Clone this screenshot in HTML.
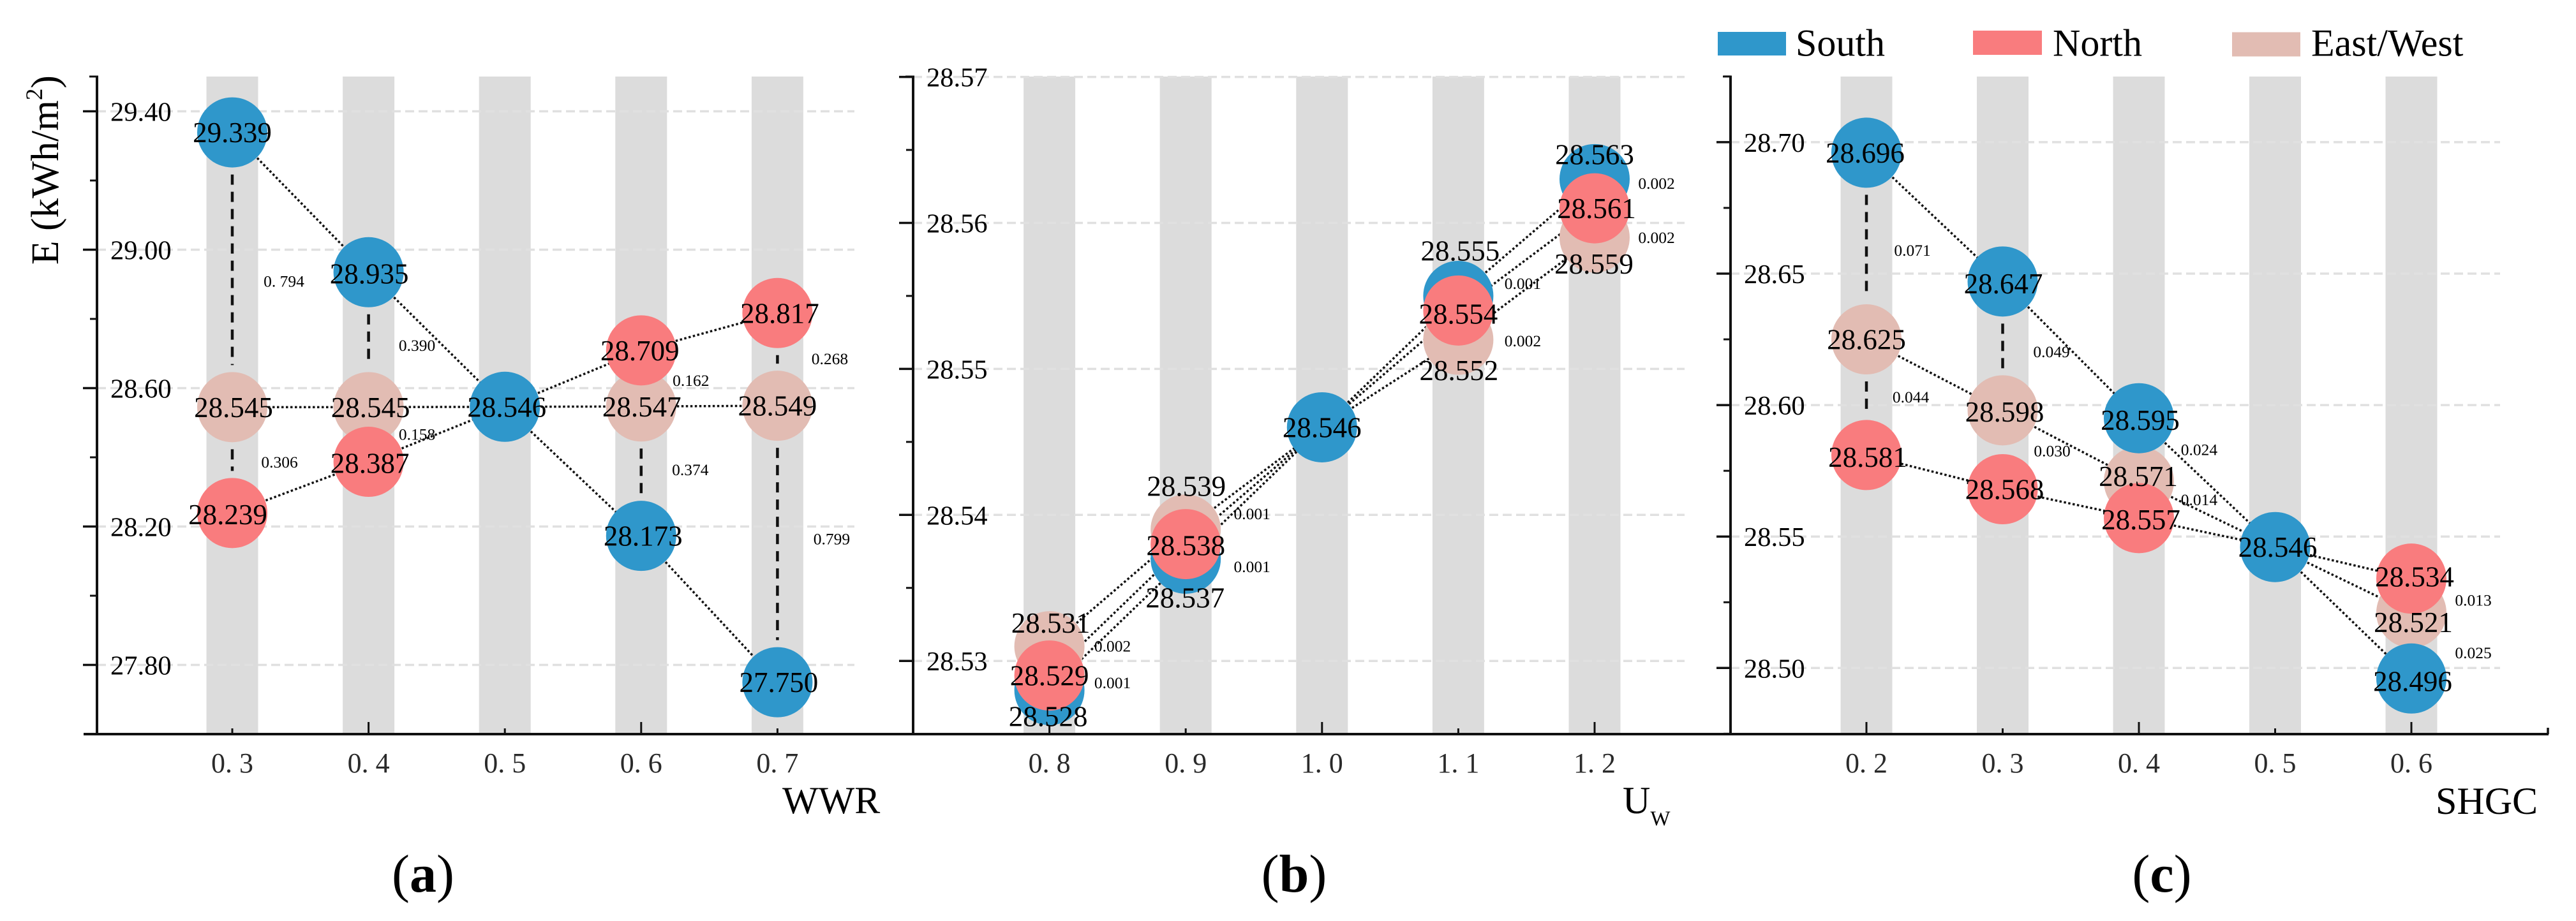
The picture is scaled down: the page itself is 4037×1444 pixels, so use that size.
<!DOCTYPE html>
<html lang="en">
<head>
<meta charset="utf-8">
<title>Energy consumption sensitivity to WWR, Uw and SHGC</title>
<style>
html,body{margin:0;padding:0;background:#fff;}
svg{display:block;}
text{font-family:"Liberation Serif",serif;fill:#000;}
</style>
</head>
<body>
<svg id="figure" xmlns="http://www.w3.org/2000/svg" width="4037" height="1444" viewBox="0 0 4037 1444">
  <rect x="0" y="0" width="4037" height="1444" fill="#fff"/>
  <g id="plots"></g>

  <line x1="131" y1="1151" x2="3994" y2="1151" stroke="#111" stroke-width="4"/>
  <line x1="3993" y1="1151" x2="3993" y2="1141" stroke="#111" stroke-width="3.5"/>

  <text transform="translate(91,415) rotate(-90)" font-size="61.5">E (kWh/m<tspan font-size="37" dy="-25">2</tspan><tspan dy="25">)</tspan></text>

  <text x="1226" y="1275" font-size="60">WWR</text>
  <text x="2543" y="1275" font-size="60">U<tspan font-size="33" dy="19">W</tspan></text>
  <text x="3817" y="1276" font-size="60">SHGC</text>

  <text x="663" y="1398" font-size="84" text-anchor="middle">(<tspan font-weight="bold">a</tspan>)</text>
  <text x="2028" y="1398" font-size="84" text-anchor="middle">(<tspan font-weight="bold">b</tspan>)</text>
  <text x="3388" y="1398" font-size="84" text-anchor="middle">(<tspan font-weight="bold">c</tspan>)</text>

  <g>
    <rect x="2692" y="50" width="107" height="37" fill="#2f97cb"/>
    <text x="2814" y="87.5" font-size="60">South</text>
    <rect x="3092" y="48" width="108" height="38" fill="#f97c7e"/>
    <text x="3217" y="87.5" font-size="60">North</text>
    <rect x="3498" y="50.5" width="107" height="38" fill="#e2bcb3"/>
    <text x="3622" y="87.5" font-size="60">East/West</text>
  </g>
</svg>

<script>
// ---------- Panel (a) data ----------
const wwrCategories = ['0. 3', '0. 4', '0. 5', '0. 6', '0. 7'];
const wwrSouth = [29.339, 28.935, 28.546, 28.173, 27.750];
const wwrNorth = [28.239, 28.387, 28.546, 28.709, 28.817];
const wwrEastWest = [28.545, 28.545, 28.546, 28.547, 28.549];
const wwrTicks = [29.40, 29.00, 28.60, 28.20, 27.80];
const wwrGapLabels = ['0. 794', '0.306', '0.390', '0.158', '0.162', '0.374', '0.268', '0.799'];
const wwrGapSpans = [[0, 'S', 'E'], [0, 'E', 'N'], [1, 'S', 'E'], [1, 'E', 'N'], [3, 'N', 'E'], [3, 'E', 'S'], [4, 'N', 'E'], [4, 'E', 'S']];

// ---------- Panel (b) data ----------
const uwCategories = ['0. 8', '0. 9', '1. 0', '1. 1', '1. 2'];
const uwSouth = [28.528, 28.537, 28.546, 28.555, 28.563];
const uwNorth = [28.529, 28.538, 28.546, 28.554, 28.561];
const uwEastWest = [28.531, 28.539, 28.546, 28.552, 28.559];
const uwTicks = [28.57, 28.56, 28.55, 28.54, 28.53];
const uwGapLabels = ['0.002', '0.001', '0.001', '0.001', '0.001', '0.002', '0.002', '0.002'];
const uwGapSpans = [[0, 'E', 'N'], [0, 'N', 'S'], [1, 'E', 'N'], [1, 'N', 'S'], [3, 'S', 'N'], [3, 'N', 'E'], [4, 'S', 'N'], [4, 'N', 'E']];

// ---------- Panel (c) data ----------
const shgcCategories = ['0. 2', '0. 3', '0. 4', '0. 5', '0. 6'];
const shgcSouth = [28.696, 28.647, 28.595, 28.546, 28.496];
const shgcNorth = [28.581, 28.568, 28.557, 28.546, 28.534];
const shgcEastWest = [28.625, 28.598, 28.571, 28.546, 28.521];
const shgcTicks = [28.70, 28.65, 28.60, 28.55, 28.50];
const shgcGapLabels = ['0.071', '0.044', '0.049', '0.030', '0.024', '0.014', '0.013', '0.025'];
const shgcGapSpans = [[0, 'S', 'E'], [0, 'E', 'N'], [1, 'S', 'E'], [1, 'E', 'N'], [2, 'S', 'E'], [2, 'E', 'N'], [4, 'N', 'E'], [4, 'E', 'S']];

// ---------- Appearance ----------
const seriesColors = { S: '#2f97cb', N: '#f97c7e', E: '#e2bcb3' };
const seriesNames = { S: 'south', N: 'north', E: 'east-west' };
const RADIUS = 55;
const BAR_WIDTH = 81;
const PLOT_TOP = 120;
const PLOT_BOTTOM = 1151;

const panels = [
  {
    id: 'wwr', axisX: 152, firstX: 364, stepX: 213.6, gridEnd: 1339,
    refValue: 28.60, refY: 608.5, pxPerUnit: 542.5, decimals: 2, majorFirst: false,
    categories: wwrCategories, ticks: wwrTicks, gapLabels: wwrGapLabels, gapSpans: wwrGapSpans,
    values: { S: wwrSouth, N: wwrNorth, E: wwrEastWest },
    labelNudge: {
      S: [[0, 0], [1, 2], [3, 0], [3, 0], [2, 0]],
      E: [[2, 0], [3, 0], [0, 0], [1, 0], [0, 0]],
      N: [[-7, 2], [2, 2], [0, 0], [-2, 0], [3.5, 0]]
    },
    gapNudge: [[81, 18], [74, 3], [76, 9], [76, 0], [78, 3], [77, -2], [82, -1], [85, -8]]
  },
  {
    id: 'uw', axisX: 1431, firstX: 1644.6, stepX: 213.6, gridEnd: 2640,
    refValue: 28.57, refY: 120.6, pxPerUnit: 22890, decimals: 2, majorFirst: true,
    categories: uwCategories, ticks: uwTicks, gapLabels: uwGapLabels, gapSpans: uwGapSpans,
    values: { S: uwSouth, N: uwNorth, E: uwEastWest },
    labelNudge: {
      S: [[-2, 41], [-1, 61], [0, 0], [3, -71], [0, -39]],
      E: [[2, -37], [1, -68], [0, 0], [1, 48], [-1, 41]],
      N: [[0, 0], [0, 2], [0, 0], [0, 5], [3, 0]]
    },
    gapNudge: [[99, -23], [99, 0], [104, -36], [104, 24], [101, -31], [101, 25], [97, -16], [97, 23]]
  },
  {
    id: 'shgc', axisX: 2712, firstX: 2925, stepX: 213.5, gridEnd: 3918,
    refValue: 28.70, refY: 222.9, pxPerUnit: 4122, decimals: 2, majorFirst: true,
    categories: shgcCategories, ticks: shgcTicks, gapLabels: shgcGapLabels, gapSpans: shgcGapSpans,
    values: { S: shgcSouth, N: shgcNorth, E: shgcEastWest },
    labelNudge: {
      S: [[-2, 0], [1, 3], [2, 3], [4, 0], [2, 4]],
      E: [[0, 0], [3, 2], [-1, -8], [0, 0], [3, 15]],
      N: [[2, 3], [3, 0], [3, 2], [0, 0], [5, -3]]
    },
    gapNudge: [[72, 7], [69.5, 0], [76.6, 9], [77.5, 2], [94.4, 0], [94.4, 0], [97, 7], [97, 11]]
  }
];

const SVG_NS = 'http://www.w3.org/2000/svg';
const root = document.getElementById('plots');

function make(tag, attrs, parent) {
  const node = document.createElementNS(SVG_NS, tag);
  for (const key in attrs) node.setAttribute(key, attrs[key]);
  parent.appendChild(node);
  return node;
}

panels.forEach(function (p) {
  const xPos = function (i) { return p.firstX + p.stepX * i; };
  const yPos = function (v) { return p.refY + (p.refValue - v) * p.pxPerUnit; };

  const group = make('g', {}, root);
  
  

  // category bands
  p.categories.forEach(function (c, i) {
    const band = make('rect', { x: xPos(i) - BAR_WIDTH / 2, y: PLOT_TOP, width: BAR_WIDTH, height: PLOT_BOTTOM - PLOT_TOP, fill: '#dcdcdc' }, group);
    
    
  });

  // grid, y ticks, labels
  p.ticks.forEach(function (t) {
    const y = yPos(t);
    const grid = make('line', { x1: p.axisX, y1: y, x2: p.gridEnd, y2: y, stroke: '#e0e0e0', 'stroke-width': 3.5, 'stroke-dasharray': '14 7' }, group);
    
    
    const tick = make('line', { x1: p.axisX - 22, y1: y, x2: p.axisX, y2: y, stroke: '#111', 'stroke-width': 3.5 }, group);
    
    
    const label = make('text', { x: p.axisX + 21, y: y + 15, 'font-size': 42.5 }, group);
    label.textContent = t.toFixed(p.decimals);
    
    
  });

  // y minor ticks at the midpoints of the major step, within the axis span
  const majorStep = p.ticks[0] - p.ticks[1];
  for (let k = -1; k < p.ticks.length; k++) {
    const y = yPos(p.ticks[0] - majorStep * (k + 0.5));
    if (y < PLOT_TOP - 1 || y > PLOT_BOTTOM) continue;
    const minor = make('line', { x1: p.axisX - 11, y1: y, x2: p.axisX, y2: y, stroke: '#111', 'stroke-width': 3 }, group);
    
    
  }

  // axis line and top cap
  const axis = make('line', { x1: p.axisX, y1: PLOT_TOP - 1.5, x2: p.axisX, y2: PLOT_BOTTOM, stroke: '#111', 'stroke-width': 4 }, group);
  
  
  const cap = make('line', { x1: p.axisX - 12, y1: PLOT_TOP, x2: p.axisX, y2: PLOT_TOP, stroke: '#111', 'stroke-width': 3 }, group);
  
  

  // x ticks + labels
  p.categories.forEach(function (c, i) {
    const isMajor = (i % 2 === 0) === p.majorFirst;
    const tick = make('line', { x1: xPos(i), y1: PLOT_BOTTOM, x2: xPos(i), y2: PLOT_BOTTOM - (isMajor ? 19 : 9), stroke: '#111', 'stroke-width': 3 }, group);
    
    
    const label = make('text', { x: xPos(i), y: 1211, 'font-size': 44, 'text-anchor': 'middle', style: 'fill:#2a2a2a' }, group);
    label.textContent = c;
    
    
  });

  // dotted series lines
  ['S', 'N', 'E'].forEach(function (key) {
    const vals = p.values[key];
    for (let i = 0; i < vals.length - 1; i++) {
      const seg = make('line', { x1: xPos(i), y1: yPos(vals[i]), x2: xPos(i + 1), y2: yPos(vals[i + 1]), stroke: '#111', 'stroke-width': 3.5, 'stroke-dasharray': '3.5 3.5' }, group);
      
      
    }
  });

  // dashed gap connectors, only where circles leave room
  p.gapSpans.forEach(function (span) {
    const i = span[0];
    const yA = yPos(p.values[span[1]][i]);
    const yB = yPos(p.values[span[2]][i]);
    const start = Math.min(yA, yB) + RADIUS + 11;
    const end = Math.max(yA, yB) - RADIUS - 11;
    if (end - start < 8) return;
    const dash = make('line', { x1: xPos(i), y1: start, x2: xPos(i), y2: end, stroke: '#111', 'stroke-width': 4.5, 'stroke-dasharray': '16 11' }, group);
    
    
  });

  // circles: East/West below, then South, then North; South wins a tie
  const isHidden = function (key, i) {
    return key !== 'S' && p.values[key][i] === p.values.S[i];
  };
  ['E', 'S', 'N'].forEach(function (key) {
    p.values[key].forEach(function (v, i) {
      if (isHidden(key, i)) return;
      const dot = make('circle', { cx: xPos(i), cy: yPos(v), r: RADIUS, fill: seriesColors[key] }, group);
      
      
    });
  });

  // value labels
  ['E', 'S', 'N'].forEach(function (key) {
    p.values[key].forEach(function (v, i) {
      if (isHidden(key, i)) return;
      const nudge = p.labelNudge[key][i];
      const label = make('text', { x: xPos(i) + nudge[0], y: yPos(v) + nudge[1] + 15.5, 'font-size': 45, 'text-anchor': 'middle' }, group);
      label.textContent = v.toFixed(3);
      
      
    });
  });

  // gap labels
  p.gapLabels.forEach(function (text, g) {
    const span = p.gapSpans[g];
    const i = span[0];
    const mid = (yPos(p.values[span[1]][i]) + yPos(p.values[span[2]][i])) / 2;
    const nudge = p.gapNudge[g];
    const label = make('text', { x: xPos(i) + nudge[0], y: mid + nudge[1] + 8.5, 'font-size': 25.5, 'text-anchor': 'middle' }, group);
    label.textContent = text;
    
    
  });
});
</script>
</body>
</html>
